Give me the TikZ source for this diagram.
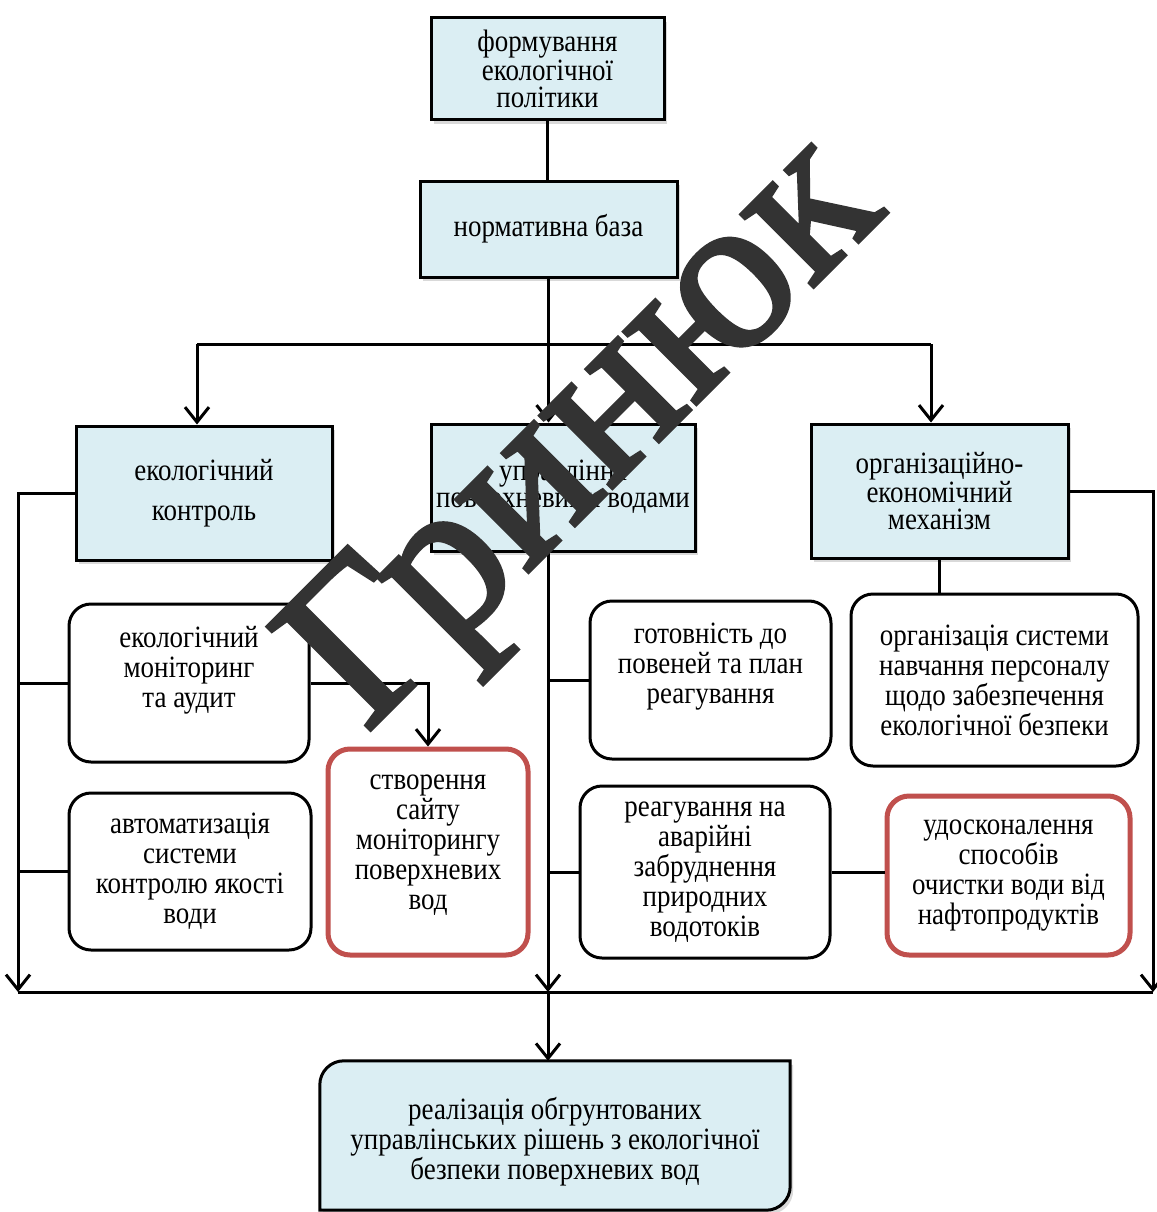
\documentclass[tikz,border=0pt]{standalone}
\usepackage{fontspec}
\setmainfont{Liberation Serif}[FakeStretch=0.87]
\newfontfamily\markfont{Liberation Serif}[FakeBold=2]
\usetikzlibrary{arrows.meta,positioning,shadows,backgrounds}
\definecolor{paleblue}{HTML}{DBEEF3}
\definecolor{boxred}{HTML}{C0504D}

\begin{document}
\begin{tikzpicture}[
        x=1pt, y=-1pt,
        every node/.style={align=center, inner sep=0pt, font=\fontsize{31}{30}\selectfont},
        bluebox/.style={draw, line width=3pt, fill=paleblue, font=\fontsize{31}{27}\selectfont,
            drop shadow={shadow xshift=3pt, shadow yshift=-4pt, opacity=0.3}},
        roundbox/.style={draw, line width=3pt, rounded corners=22pt, fill=white},
        redbox/.style={draw=boxred, line width=5pt, rounded corners=22pt, fill=white},
        link/.style={draw, line width=3pt},
        arr/.style={link, -{Straight Barb[length=15pt, width=24pt]}},
    ]
    \useasboundingbox (0,0) rectangle (1156,1212);

    % === TOP: policy and norms ===
    \node[bluebox, minimum width=233pt, minimum height=102pt] (policy) at (547.5,69) {формування\\екологічної\\політики};
    \node[bluebox, minimum width=257pt, minimum height=96pt] (norm) at (548.5,229) {нормативна база};

    % === MIDDLE ROW ===
    \node[bluebox, minimum width=256pt, minimum height=134pt] (ctrl) at (204,493) {екологічний\\[13pt]контроль};
    \node[bluebox, minimum width=264pt, minimum height=127pt] (mgmt) at (563,487.5) {управління\\поверхневими водами};
    \node[bluebox, minimum width=257pt, minimum height=134pt] (orgm) at (939.5,491) {організаційно-\\економічний\\механізм};

    % --- left group ---
    \node[roundbox, minimum width=240pt, minimum height=158pt] (monit) at (189,683) {екологічний\\моніторинг\\та аудит\\[2pt]\mbox{}};
    \node[roundbox, minimum width=242pt, minimum height=157pt] (autom) at (190,871.5) {автоматизація\\системи\\контролю якості\\води};
    \node[redbox, minimum width=200pt, minimum height=206pt] (site) at (428,852) {створення\\сайту\\моніторингу\\поверхневих\\вод\\[-10pt]\mbox{}};

    % --- right group ---
    \node[roundbox, minimum width=241pt, minimum height=158pt] (flood) at (710.5,680) {готовність до\\повеней та план\\реагування\\[4pt]\mbox{}};
    \node[roundbox, minimum width=287pt, minimum height=172pt] (train) at (994.5,680) {організація системи\\навчання персоналу\\щодо забезпечення\\екологічної безпеки};
    \node[roundbox, minimum width=250pt, minimum height=172pt] (react) at (705,872) {реагування на\\аварійні\\забруднення\\природних\\водотоків};
    \node[redbox, minimum width=243pt, minimum height=159pt] (clean) at (1008.5,875.5) {удосконалення\\способів\\очистки води від\\нафтопродуктів};

    % === BOTTOM: result ===
    \node[minimum width=470pt, minimum height=149pt] (final) at (555,1135.5) {\mbox{}\\[4pt]реалізація\ обгрунтованих\\управлінських рішень з екологічної\\безпеки поверхневих вод};
    \begin{pgfonlayer}{background}
        \draw[line width=3pt, fill=paleblue, drop shadow={shadow xshift=3pt, shadow yshift=-4pt, opacity=0.3}]
            (final.north) [sharp corners] -- (final.north east)
            [rounded corners=24pt] -- (final.south east)
            [sharp corners] -- (final.south west)
            [rounded corners=24pt] -- (final.north west)
            [sharp corners] -- cycle;
    \end{pgfonlayer}

    % === CONNECTORS ===
    \draw[link] (policy.south) -- (policy.south |- norm.north);
    \draw[arr] (norm.south) -- (norm.south |- mgmt.north);

    % distribution bar
    \coordinate (barL) at (197,344);
    \coordinate (barR) at (931,344);
    \draw[link] (barL) -- (barR);
    \draw[arr] (barL) -- (barL |- ctrl.north);
    \draw[arr] (barR) -- (barR |- orgm.north);

    % bottom collector
    \coordinate (botL) at (18,992);
    \coordinate (botR) at (1153,992);
    \coordinate (botM) at (548,992);
    \draw[link] (botL) -- (botR);
    \draw[arr] (ctrl.west) -| (botL);
    \draw[arr] (orgm.east) -| (botR);
    \draw[arr] (mgmt.south -| botM) -- (botM);
    \draw[arr] (botM) -- (botM |- final.north);

    % branches
    \draw[link] (monit.west) -- (monit.west -| botL);
    \draw[link] (autom.west) -- (autom.west -| botL);
    \draw[arr] (monit.east) -| (site.north);
    \draw[link] (flood.west) -- (flood.west -| botM);
    \draw[link] (react.west) -- (react.west -| botM);
    \draw[link] (react.east) -- (react.east -| clean.west);
    \draw[link] (orgm.south) -- (orgm.south |- train.north);

    % watermark
    \node[font=\markfont\fontsize{222}{222}\selectfont, text=black!80, rotate=45, anchor=base west] (mark) at (366,734) {Гринюк};

\end{tikzpicture}
\end{document}
